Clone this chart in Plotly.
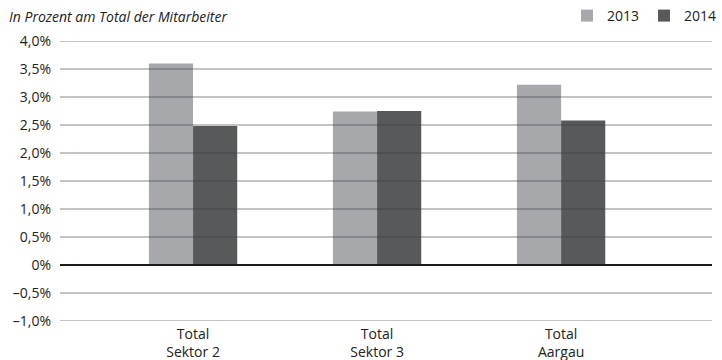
import plotly.graph_objects as go

# Data
categories = ["Total<br>Sektor 2", "Total<br>Sektor 3", "Total<br>Aargau"]
values_2013 = [3.60, 2.74, 3.22]
values_2014 = [2.48, 2.75, 2.58]
tick_values = [4.0, 3.5, 3.0, 2.5, 2.0, 1.5, 1.0, 0.5, 0.0, -0.5, -1.0]
tick_labels = ["4,0%", "3,5%", "3,0%", "2,5%", "2,0%", "1,5%", "1,0%", "0,5%", "0%", "–0,5%", "–1,0%"]

FONT = "Open Sans, Noto Sans, sans-serif"
TEXT = "#222222"
COLOR_2013 = "#a7a8ab"
COLOR_2014 = "#58595b"

fig = go.Figure()
fig.add_trace(go.Bar(name="2013", x=categories, y=values_2013, marker_color=COLOR_2013,
                     marker_line_width=0))
fig.add_trace(go.Bar(name="2014", x=categories, y=values_2014, marker_color=COLOR_2014,
                     marker_line_width=0))

# Grid lines drawn on top of the bars (semi-transparent so they darken the bars)
shapes = []
for v in tick_values:
    if v == 0:
        continue
    shapes.append(dict(type="line", xref="paper", x0=0, x1=1, yref="y", y0=v, y1=v,
                       line=dict(color="rgba(60,60,70,0.30)", width=2), layer="above"))
# Baseline at zero
shapes.append(dict(type="line", xref="paper", x0=0, x1=1, yref="y", y0=0, y1=0,
                   line=dict(color="#1a1a1a", width=2), layer="above"))

fig.update_layout(
    width=722, height=360,
    margin=dict(l=60, r=10, t=41, b=39, autoexpand=False),
    paper_bgcolor="white", plot_bgcolor="white",
    barmode="group", bargap=0.52, bargroupgap=0,
    font=dict(family=FONT, size=14, color=TEXT),
    shapes=shapes,
    showlegend=True,
    legend=dict(orientation="h", xref="container", x=1.0, xanchor="right",
                yref="container", y=1.0, yanchor="top",
                font=dict(family=FONT, size=14, color=TEXT),
                itemwidth=30, bgcolor="rgba(0,0,0,0)"),
    annotations=[dict(text="<i>In Prozent am Total der Mitarbeiter</i>",
                      xref="paper", yref="paper", x=-0.082, y=1.0, yshift=25,
                      xanchor="left", yanchor="middle", showarrow=False,
                      font=dict(family=FONT, size=14, color=TEXT))],
)
fig.update_yaxes(range=[-1.0, 4.0], tickvals=tick_values, ticktext=tick_labels,
                 showgrid=False, zeroline=False, showline=False, ticks="",
                 ticklabelstandoff=8, tickfont=dict(family=FONT, size=14, color=TEXT))
fig.update_xaxes(range=[-0.723, 2.82], showgrid=False, zeroline=False, showline=False,
                 ticks="", ticklabelstandoff=3,
                 tickfont=dict(family=FONT, size=14, color=TEXT))

fig.write_html("out.html")
